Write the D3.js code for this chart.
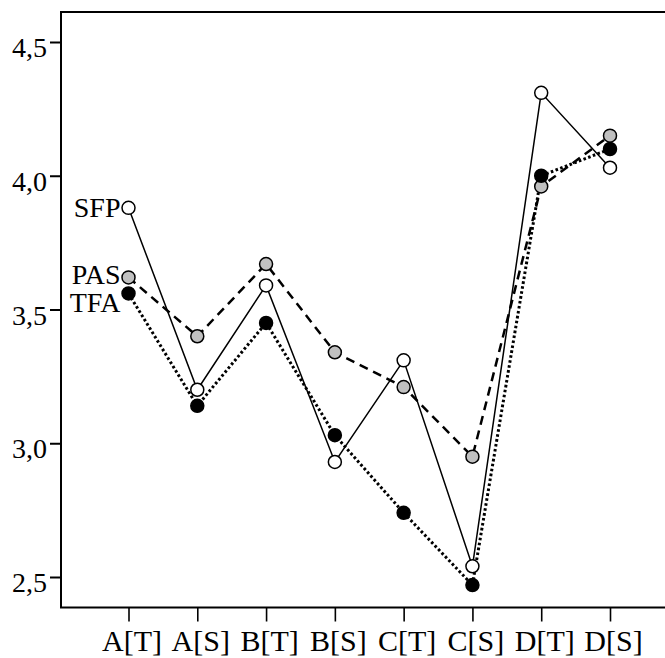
<!DOCTYPE html>
<html>
<head>
<meta charset="utf-8">
<script src="https://cdn.jsdelivr.net/npm/d3@7"></script>
<style>
  body { margin: 0; background: #fff; }
  text { font-family: "Liberation Serif", "Times New Roman", serif; fill: #000; }
</style>
</head>
<body>
<div id="chart"></div>
<script>

// categories and series values
var categories = ["A[T]", "A[S]", "B[T]", "B[S]", "C[T]", "C[S]", "D[T]", "D[S]"];
var sfpValues = [3.88, 3.20, 3.59, 2.93, 3.31, 2.54, 4.31, 4.03];
var pasValues = [3.62, 3.40, 3.67, 3.34, 3.21, 2.95, 3.96, 4.15];
var tfaValues = [3.56, 3.14, 3.45, 3.03, 2.74, 2.47, 4.00, 4.10];
var yTicks = [2.5, 3.0, 3.5, 4.0, 4.5];

var series = [
  {name: "SFP", values: sfpValues, fill: "#fff", dash: null, width: 1.5, labelY: 217},
  {name: "PAS", values: pasValues, fill: "#c0c0c0", dash: "9,6", width: 2.5, labelY: 284},
  {name: "TFA", values: tfaValues, fill: "#000", dash: "2.6,2.4", width: 3, labelY: 312}
];

var W = 665, H = 658;
var frame = {left: 61, top: 12, bottom: 607.5};
var serif = "'Liberation Serif', 'Times New Roman', serif";

var svg = d3.select("#chart")
  .append("svg")
  .attr("width", W)
  .attr("height", H);

// scales
var x = d3.scalePoint()
  .domain(categories)
  .range([128.5, 610]);

var y = d3.scaleLinear()
  .domain([2.5, 4.5])
  .range([577, 42]);

// frame (right side runs off the picture)
svg.append("rect")
  .attr("x", frame.left)
  .attr("y", frame.top)
  .attr("width", 660)
  .attr("height", frame.bottom - frame.top)
  .attr("fill", "none")
  .attr("stroke", "#000")
  .attr("stroke-width", 2);

// y axis
var yAxis = svg.append("g")
  .attr("transform", "translate(" + frame.left + ",0)")
  .call(d3.axisLeft(y)
    .tickValues(yTicks)
    .tickSize(11)
    .tickPadding(3)
    .tickFormat(function(d) { return d3.format(".1f")(d).replace(".", ","); }));
yAxis.select(".domain").remove();
yAxis.selectAll(".tick line").attr("stroke-width", 2);
yAxis.selectAll(".tick text")
  .style("font-family", serif)
  .style("font-size", "28px")
  .attr("dy", "0.52em");

// x axis
var xAxis = svg.append("g")
  .attr("transform", "translate(0," + frame.bottom + ")")
  .call(d3.axisBottom(x).tickSize(14).tickPadding(6));
xAxis.select(".domain").remove();
xAxis.selectAll(".tick line").attr("stroke-width", 1.6);
xAxis.selectAll(".tick text")
  .style("font-family", serif)
  .style("font-size", "30px")
  .attr("dx", 3)
  .attr("dy", "0.79em");

// lines
var line = d3.line()
  .x(function(d, i) { return x(categories[i]); })
  .y(function(d) { return y(d); });

series.forEach(function(s) {
  svg.append("path")
    .datum(s.values)
    .attr("d", line)
    .attr("fill", "none")
    .attr("stroke", "#000")
    .attr("stroke-width", s.width)
    .attr("stroke-dasharray", s.dash);
});

// markers
series.forEach(function(s) {
  svg.selectAll(null)
    .data(s.values)
    .enter()
    .append("circle")
      .attr("cx", function(d, i) { return x(categories[i]); })
      .attr("cy", function(d) { return y(d); })
      .attr("r", 6.5)
      .attr("fill", s.fill)
      .attr("stroke", "#000")
      .attr("stroke-width", 1.5);
});

// series labels at the first point
svg.selectAll(null)
  .data(series)
  .enter()
  .append("text")
    .attr("x", x(categories[0]) - 8)
    .attr("y", function(d) { return d.labelY; })
    .attr("text-anchor", "end")
    .style("font-family", serif)
    .style("font-size", "28px")
    .text(function(d) { return d.name; });

</script>
</body>
</html>
